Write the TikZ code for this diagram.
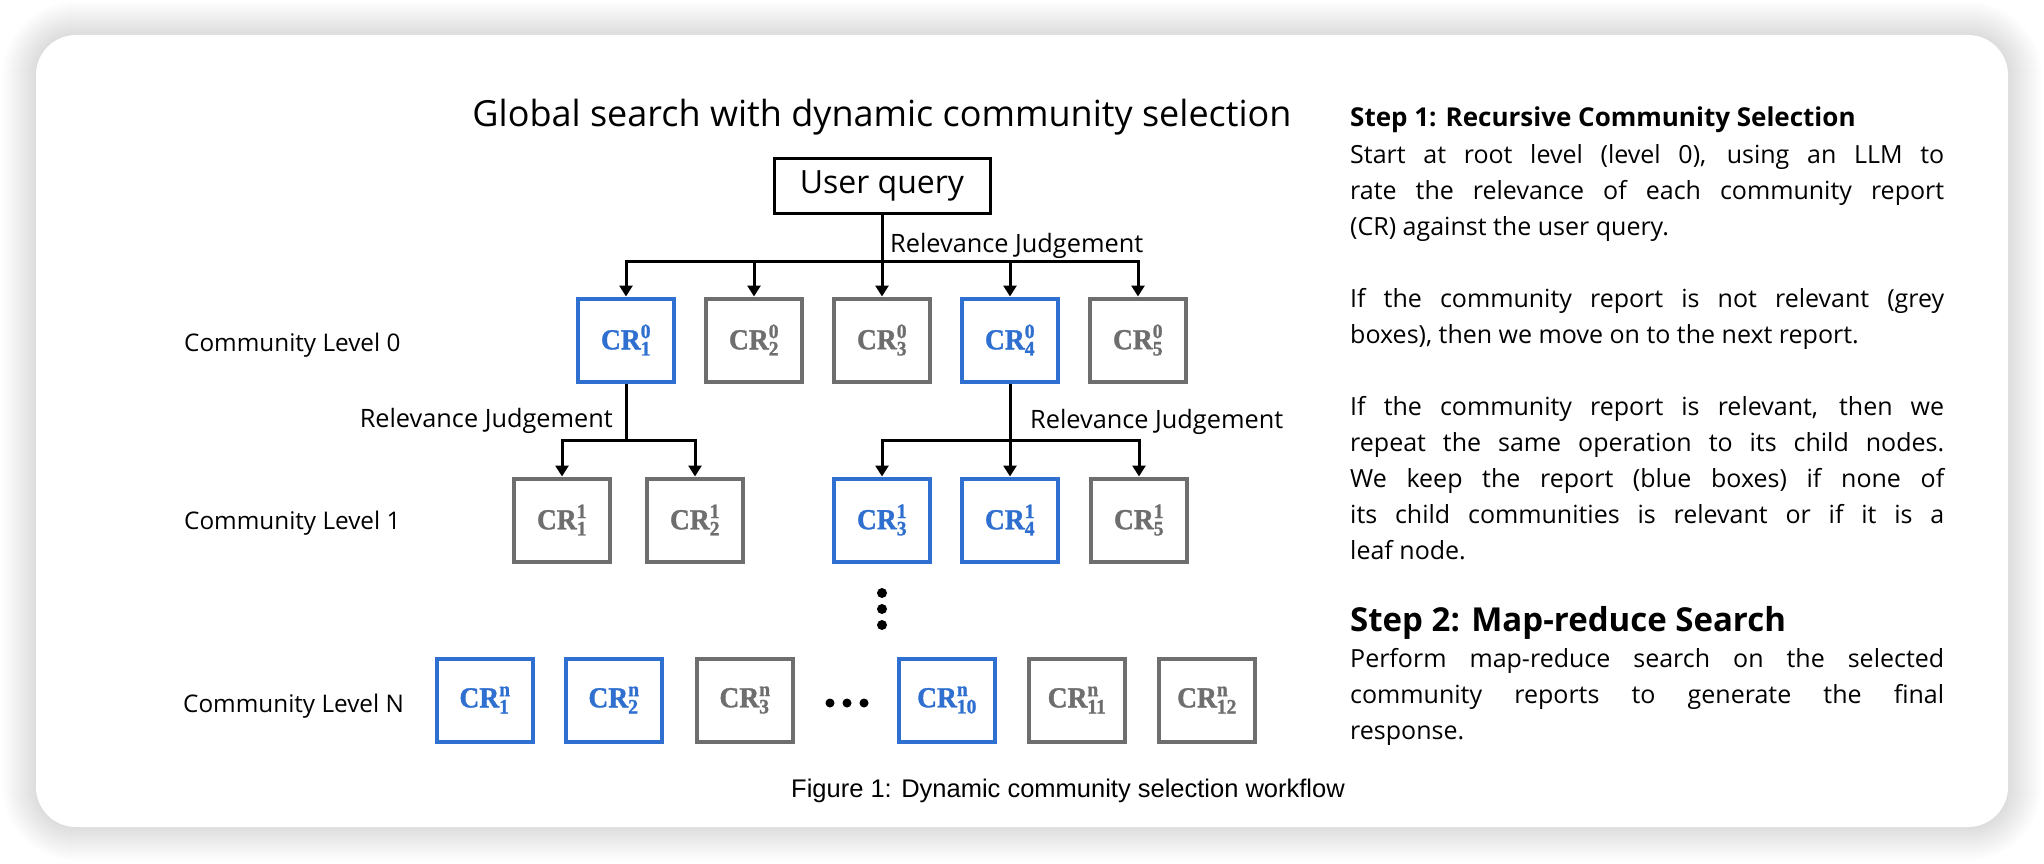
\documentclass[tikz,border=0pt]{standalone}
\usepackage{fontspec}
\setmainfont{Open Sans}
\newfontfamily\capfont{Liberation Sans}
\newfontfamily\crfont[FakeStretch=0.95, FakeBold=1.2]{Liberation Serif}
\usetikzlibrary{arrows.meta, positioning}
\definecolor{crblue}{HTML}{2F6FD0}
\definecolor{crgrey}{HTML}{6E6E6E}
\newcommand{\crsz}{\fontsize{29}{32}\selectfont}
\newcommand{\crsub}{\fontsize{20.5}{22}\selectfont}
\newcommand{\crlab}[2]{$\hbox{CR}^{\hbox{\crsub #1}}_{\hbox{\crsub #2}}$}
\tikzset{
  crbox/.style={draw=#1, text=#1, line width=4pt, minimum width=96pt, minimum height=83pt, inner sep=0pt, font=\crfont\bfseries\crsz},
  crbox/.default=crgrey,
  link/.style={line width=3pt},
  arrow/.style={link, -{Triangle[length=11pt, width=13pt]}},
  level/.style={anchor=base west, inner sep=0pt, font=\fontsize{24.3}{30}\selectfont},
  judge/.style={inner sep=0pt, font=\fontsize{25.3}{28}\selectfont},
  body/.style={anchor=base west, inner sep=0pt, text width=594pt, align=justify, font=\fontsize{25}{36}\selectfont},
  head/.style={anchor=base west, inner sep=0pt, font=\bfseries#1},
}

\begin{document}
\begin{tikzpicture}[x=1pt, y=-1pt]
  \useasboundingbox (0,0) rectangle (2044,864);
  % card and its soft shadow
  \foreach \s [evaluate=\s as \r using 40+\s] in {1,...,34}
    \fill[black, opacity=0.0045, rounded corners=\r pt] (36-\s,35-\s) rectangle (2008+\s,827+\s);
  \fill[white, rounded corners=40pt] (36,35) rectangle (2008,827);

  % title and query
  \node[anchor=base, font=\fontsize{36}{42}\selectfont] (title) at (882,127) {Global search with dynamic community selection};
  \node[draw, line width=3pt, minimum width=216pt, minimum height=55pt, font=\fontsize{32}{38}\selectfont] (query) at (882,186) {User query};

  % level 0
  \foreach \i/\x/\c in {1/626/crblue, 2/754/crgrey, 3/882/crgrey, 4/1010/crblue, 5/1138/crgrey}
    \node[crbox=\c] (l0b\i) at (\x,340) {\crlab{0}{\i}};
  \coordinate (bus0) at (882,261);
  \draw[link] (query) -- (bus0);
  \foreach \i in {1,...,5} \draw[arrow] (bus0) -| (l0b\i);
  \node[judge, anchor=base west] (rj0) at (890,252) {Relevance Judgement};

  % level 1
  \foreach \i/\x/\c in {1/562/crgrey, 2/695/crgrey, 3/882/crblue, 4/1010/crblue, 5/1139/crgrey}
    \node[crbox=\c] (l1b\i) at (\x,520) {\crlab{1}{\i}};
  \coordinate (bus1a) at (626,440);
  \coordinate (bus1b) at (1010,440);
  \draw[link] (l0b1) -- (bus1a);
  \draw[link] (l0b4) -- (bus1b);
  \foreach \i in {1,2} \draw[arrow] (bus1a) -| (l1b\i);
  \foreach \i in {3,4,5} \draw[arrow] (bus1b) -| (l1b\i);
  \node[judge, anchor=base east] (rj1) at (613,427) {Relevance Judgement};
  \node[judge, anchor=base west] (rj2) at (1030,428) {Relevance Judgement};

  \foreach \y in {593,609,625} \fill (882,\y) circle (5pt);

  % level N
  \foreach \i/\x/\c in {1/485/crblue, 2/614/crblue, 3/745/crgrey, 10/947/crblue, 11/1077/crgrey, 12/1207/crgrey}
    \node[crbox=\c] (lnb\i) at (\x,700) {\crlab{n}{\i}};
  \foreach \x in {830,847,864} \fill (\x,703) circle (4.5pt);

  \node[level] (lv0) at (184,351) {Community Level 0};
  \node[level] (lv1) at (184,529) {Community Level 1};
  \node[level] (lvn) at (183,712) {Community Level N};

  \node[anchor=base, font=\capfont\fontsize{25.5}{30}\selectfont] (cap) at (1068,797) {Figure 1: Dynamic community selection workflow};

  % right column
  \node[head=\fontsize{26}{30}\selectfont] (step1) at (1350,127) {Step 1: Recursive Community Selection};
  \node[body] (p1) at (1350,163) {Start at root level (level 0), using an LLM to\linebreak rate the relevance of each community report\linebreak (CR) against the user query.};
  \node[body] (p2) at (1350,307) {If the community report is not relevant (grey\linebreak boxes), then we move on to the next report.};
  \node[body] (p3) at (1350,415) {If the community report is relevant, then we\linebreak repeat the same operation to its child nodes.\linebreak We keep the report (blue boxes) if none of\linebreak its child communities is relevant or if it is a\linebreak leaf node.};
  \node[head=\fontsize{33}{38}\selectfont] (step2) at (1350,631) {Step 2: Map-reduce Search};
  \node[body] (p4) at (1350,667) {Perform map-reduce search on the selected\linebreak community reports to generate the final\linebreak response.};
\end{tikzpicture}
\end{document}
